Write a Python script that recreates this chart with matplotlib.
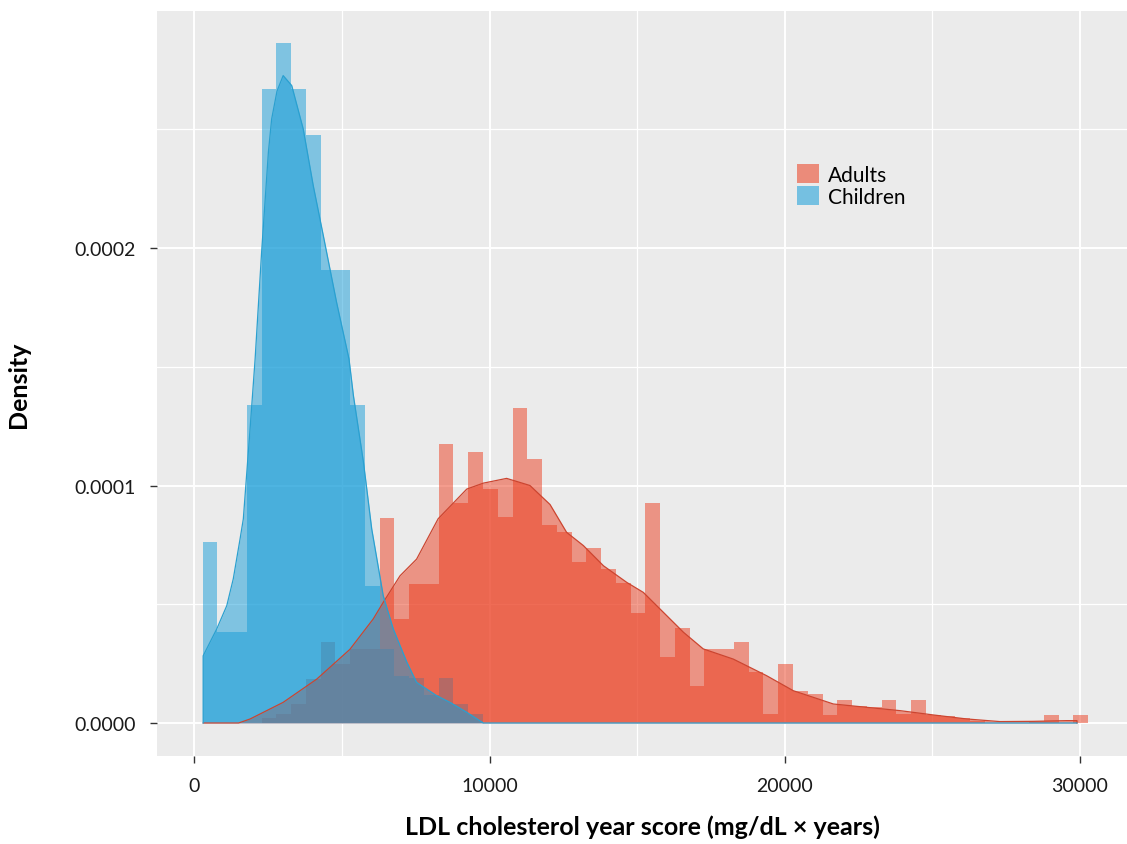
import numpy as np
import matplotlib.pyplot as plt
from matplotlib.patches import Patch
from matplotlib.ticker import MultipleLocator, FuncFormatter

plt.rcParams['font.family'] = ['Lato', 'DejaVu Sans']

# histogram: 60 bins of width 500 starting at 280 (density, units of 1e-4)
bin_start = 280
bin_width = 500
adults_hist = [0, 0, 0, 0, 0.02, 0.04, 0.08, 0.185, 0.34, 0.25,
               0.31, 0.31, 0.863, 0.438, 0.585, 0.585, 1.175, 0.926, 1.14, 0.985,
               0.866, 1.325, 1.112, 0.835, 0.803, 0.679, 0.737, 0.648, 0.588, 0.463,
               0.925, 0.279, 0.40, 0.157, 0.31, 0.31, 0.34, 0.216, 0.038, 0.248,
               0.136, 0.122, 0.035, 0.097, 0.07, 0.066, 0.097, 0.04, 0.097, 0.035,
               0.031, 0.02, 0.01, 0, 0, 0, 0.01, 0.035, 0, 0.035]
children_hist = [0.761, 0.385, 0.385, 1.339, 2.669, 2.863, 2.669, 2.476, 1.907, 1.907,
                 1.339, 0.578, 0.31, 0.20, 0.19, 0.12, 0.19, 0.08, 0.04, 0] + [0] * 40

# kernel density curves (units of 1e-4)
children_x = [300, 760, 1100, 1320, 1550, 1660, 1890, 2060, 2280, 2510, 2620, 2800,
              3010, 3300, 3690, 4030, 4370, 4820, 5240, 5390, 5730, 6010, 6400,
              6740, 7200, 7530, 8210, 8660, 9230, 9790, 29900]
children_y = [0.283, 0.396, 0.494, 0.607, 0.775, 0.859, 1.24, 1.533, 1.983, 2.404,
              2.543, 2.66, 2.726, 2.684, 2.501, 2.262, 2.052, 1.771, 1.533, 1.378,
              1.098, 0.817, 0.536, 0.396, 0.256, 0.171, 0.115, 0.087, 0.045, 0.0, 0.0]
adults_x = [300, 1500, 1890, 3010, 4150, 5270, 6060, 6400, 6970, 7530, 8260, 9230,
            9790, 10580, 11370, 12050, 12610, 13180, 13860, 14650, 15210, 15890,
            16570, 17240, 18260, 19390, 20290, 21650, 22780, 23910, 25030, 26170,
            27290, 28410, 29550, 29900]
adults_y = [0, 0, 0.017, 0.087, 0.185, 0.31, 0.438, 0.508, 0.62, 0.69, 0.86, 0.985,
            1.01, 1.03, 1.0, 0.92, 0.803, 0.747, 0.662, 0.592, 0.55, 0.466,
            0.382, 0.312, 0.269, 0.199, 0.136, 0.08, 0.066, 0.052, 0.034, 0.017,
            0.006, 0.007, 0.01, 0.01]

groups = ['Adults', 'Children']
fill_colors = {'Adults': '#EB3C1E', 'Children': '#159DD9'}
line_colors = {'Adults': '#CC4530', 'Children': '#2AA0D0'}

fig = plt.figure(figsize=(11.27, 8.45), dpi=100)
ax = fig.add_axes([157 / 1127, 88 / 845, 970 / 1127, 745 / 845])
ax.set_facecolor('#EBEBEB')

edges = bin_start + bin_width * np.arange(len(adults_hist))
hists = {'Adults': adults_hist, 'Children': children_hist}
curves = {'Adults': (adults_x, adults_y), 'Children': (children_x, children_y)}

# histograms first, then densities on top (all half transparent)
for g in groups:
    ax.bar(edges, np.array(hists[g]) * 1e-4, width=bin_width, align='edge',
           color=fill_colors[g], alpha=0.5, linewidth=0, zorder=2)
for g in groups:
    x, y = curves[g]
    y = np.array(y) * 1e-4
    ax.fill_between(x, 0, y, color=fill_colors[g], alpha=0.5, linewidth=0, zorder=3)
    ox = np.concatenate([[x[0]], x, [x[-1]]])
    oy = np.concatenate([[0], y, [0]])
    ax.plot(ox, oy, color=line_colors[g], lw=0.9, zorder=4)

ax.set_xlim(-1264, 31595)
ax.set_ylim(-1.389e-5, 2.998e-4)

ax.xaxis.set_major_locator(MultipleLocator(10000))
ax.xaxis.set_minor_locator(MultipleLocator(5000))
ax.yaxis.set_major_locator(MultipleLocator(1e-4))
ax.yaxis.set_minor_locator(MultipleLocator(5e-5))
ax.yaxis.set_major_formatter(FuncFormatter(lambda v, p: f'{v:.4f}'))
ax.xaxis.set_major_formatter(FuncFormatter(lambda v, p: f'{v:.0f}'))

ax.grid(which='major', color='white', lw=1.4, zorder=1)
ax.grid(which='minor', color='white', lw=0.9, zorder=1)
ax.set_axisbelow(True)
for s in ax.spines.values():
    s.set_visible(False)

ax.tick_params(which='major', length=5, width=1, color='#333333',
               labelsize=14, labelcolor='#1a1a1a', pad=10)
ax.tick_params(which='minor', length=0)

ax.set_xlabel('LDL cholesterol year score (mg/dL × years)', fontsize=18,
              fontweight='bold')
ax.set_ylabel('Density', fontsize=18, fontweight='bold')
ax.xaxis.set_label_coords(0.5, -0.078)
ax.yaxis.set_label_coords(-0.131, 0.5)

handles = [Patch(facecolor=fill_colors[g], alpha=0.55, edgecolor='none') for g in groups]
leg = ax.legend(handles, groups, loc='upper left',
                bbox_to_anchor=((797 - 157) / 970, (757 - 165) / 745),
                frameon=False, fontsize=15, borderpad=0, borderaxespad=0,
                handlelength=1.05, handleheight=1.05, handletextpad=0.45,
                labelspacing=0.05)

fig.savefig('out.png', dpi=100)
